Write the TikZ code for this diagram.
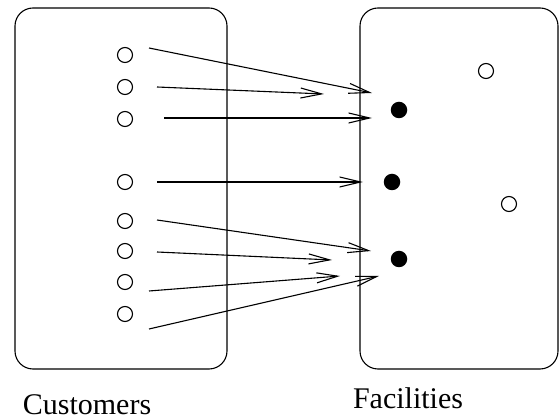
\documentclass[tikz,border=0pt]{standalone}
\usepackage{fontspec}
\setmainfont{Liberation Serif}
\usetikzlibrary{arrows.meta}

\begin{document}
\begin{tikzpicture}[x=1pt, y=-1pt, line width=1.1pt, region/.style={draw, rounded corners=18pt}, cust/.style={draw, circle, minimum size=15pt, inner sep=0pt}, open/.style={cust}, site/.style={circle, fill=black, minimum size=16.5pt, inner sep=0pt}, arr/.style={-{Straight Barb[length=21pt,width=10pt]}}, lbl/.style={font=\fontsize{30}{34}\selectfont, anchor=base, inner sep=0pt, text depth=0pt}]
\useasboundingbox (0,0) rectangle (560,419);
\draw[region] (15,8) rectangle (227,369);
\draw[region] (360,8) rectangle (558,369);
\foreach \i/\y in {1/55,2/87,3/119,4/182,5/221,6/251,7/282,8/314}
  \node[cust] (c\i) at (125,\y) {};
\node[open] (f1) at (486,71) {};
\node[site] (f2) at (399,110) {};
\node[site] (f3) at (392,182) {};
\node[open] (f4) at (509,204) {};
\node[site] (f5) at (399,259) {};
\coordinate (t1) at (149,48);  \coordinate (h1) at (372,93);
\coordinate (t2) at (157,87);  \coordinate (h2) at (324,94);
\coordinate (t3) at (164,118); \coordinate (h3) at (372,118);
\coordinate (t4) at (157,182); \coordinate (h4) at (363,182);
\coordinate (t5) at (157,220); \coordinate (h5) at (371,251);
\coordinate (t6) at (157,252); \coordinate (h6) at (332,260);
\coordinate (t7) at (149,291); \coordinate (h7) at (340,276);
\coordinate (t8) at (149,329); \coordinate (h8) at (379,276);
\foreach \i in {1,...,8}
  \draw[arr] (t\i) -- (h\i);
\node[lbl] (cname) at (87,415) {Customers};
\node[lbl] (fname) at (408,409) {Facilities};
\end{tikzpicture}
\end{document}
